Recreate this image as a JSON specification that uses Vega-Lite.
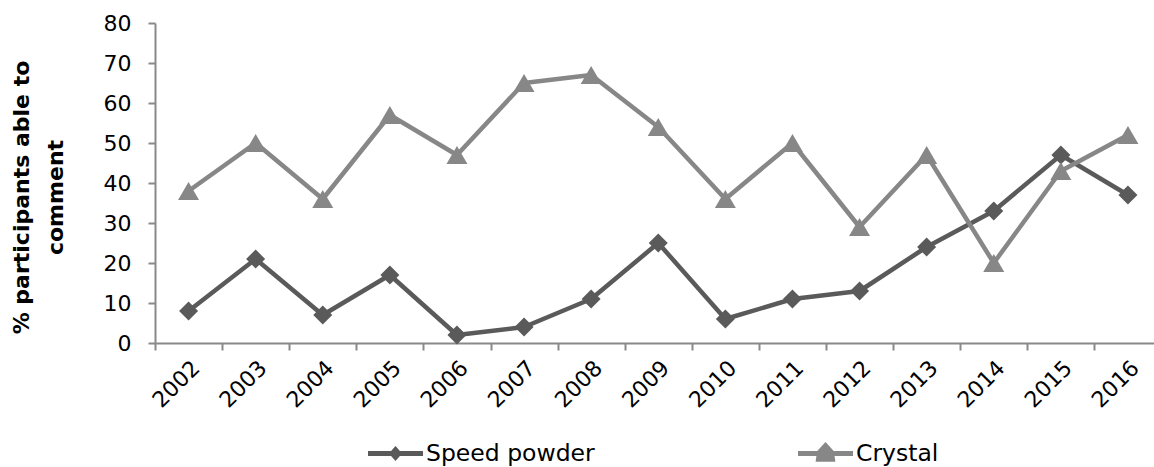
{
  "$schema": "https://vega.github.io/schema/vega-lite/v6.json",
  "width": 999,
  "height": 320,
  "autosize": {"type": "none"},
  "padding": {"left": 155, "top": 23, "right": 0, "bottom": 124},
  "background": "white",
  "config": {
    "view": {"stroke": null},
    "font": "DejaVu Sans"
  },
  "data": {
    "values": [
      {"year": "2002", "series": "Speed powder", "pct": 8},
      {"year": "2003", "series": "Speed powder", "pct": 21},
      {"year": "2004", "series": "Speed powder", "pct": 7},
      {"year": "2005", "series": "Speed powder", "pct": 17},
      {"year": "2006", "series": "Speed powder", "pct": 2},
      {"year": "2007", "series": "Speed powder", "pct": 4},
      {"year": "2008", "series": "Speed powder", "pct": 11},
      {"year": "2009", "series": "Speed powder", "pct": 25},
      {"year": "2010", "series": "Speed powder", "pct": 6},
      {"year": "2011", "series": "Speed powder", "pct": 11},
      {"year": "2012", "series": "Speed powder", "pct": 13},
      {"year": "2013", "series": "Speed powder", "pct": 24},
      {"year": "2014", "series": "Speed powder", "pct": 33},
      {"year": "2015", "series": "Speed powder", "pct": 47},
      {"year": "2016", "series": "Speed powder", "pct": 37},
      {"year": "2002", "series": "Crystal", "pct": 38},
      {"year": "2003", "series": "Crystal", "pct": 50},
      {"year": "2004", "series": "Crystal", "pct": 36},
      {"year": "2005", "series": "Crystal", "pct": 57},
      {"year": "2006", "series": "Crystal", "pct": 47},
      {"year": "2007", "series": "Crystal", "pct": 65},
      {"year": "2008", "series": "Crystal", "pct": 67},
      {"year": "2009", "series": "Crystal", "pct": 54},
      {"year": "2010", "series": "Crystal", "pct": 36},
      {"year": "2011", "series": "Crystal", "pct": 50},
      {"year": "2012", "series": "Crystal", "pct": 29},
      {"year": "2013", "series": "Crystal", "pct": 47},
      {"year": "2014", "series": "Crystal", "pct": 20},
      {"year": "2015", "series": "Crystal", "pct": 43},
      {"year": "2016", "series": "Crystal", "pct": 52}
    ]
  },
  "encoding": {
    "x": {
      "field": "year",
      "type": "ordinal",
      "scale": {"type": "band", "paddingInner": 0, "paddingOuter": 0, "range": [0, 1006.5]},
      "axis": {
        "title": null,
        "tickBand": "extent",
        "labelAngle": -45,
        "labelFont": "DejaVu Sans",
        "labelFontSize": 22,
        "labelColor": "#000000",
        "labelPadding": 7,
        "domainColor": "#898989",
        "domainWidth": 2,
        "tickColor": "#898989",
        "tickWidth": 2,
        "tickSize": 7,
        "grid": false
      }
    },
    "y": {
      "field": "pct",
      "type": "quantitative",
      "scale": {"domain": [0, 80], "nice": false, "zero": true},
      "axis": {
        "title": ["% participants able to", "comment"],
        "titleFont": "DejaVu Sans",
        "titleFontSize": 22,
        "titleFontWeight": "bold",
        "titleColor": "#000000",
        "titleLineHeight": 34,
        "titlePadding": 36,
        "titleY": 174,
        "values": [0, 10, 20, 30, 40, 50, 60, 70, 80],
        "labelFont": "DejaVu Sans",
        "labelFontSize": 22,
        "labelColor": "#000000",
        "labelPadding": 17,
        "domainColor": "#898989",
        "domainWidth": 2,
        "tickColor": "#898989",
        "tickWidth": 2,
        "tickSize": 7,
        "grid": false
      }
    },
    "color": {
      "field": "series",
      "type": "nominal",
      "scale": {"domain": ["Speed powder", "Crystal"], "range": ["#5a5a5a", "#878787"]},
      "legend": {
        "title": null,
        "orient": "none",
        "legendX": 213,
        "legendY": 403,
        "direction": "horizontal",
        "columns": 2,
        "columnPadding": 203,
        "padding": 0,
        "symbolSize": 3025,
        "symbolStrokeWidth": 0,
        "labelFont": "DejaVu Sans",
        "labelFontSize": 23.5,
        "labelColor": "#000000",
        "labelOffset": 3,
        "labelLimit": 400,
        "encode": {
          "symbols": {
            "update": {
              "shape": {"signal": "datum.value === 'Crystal' ? 'M-1,-0.09 L-0.3,-0.09 L0,-0.42 L0.3,-0.09 L1,-0.09 L1,0.09 L0.33,0.09 L0.36,0.3 L-0.36,0.3 L-0.33,0.09 L-1,0.09 Z' : 'M-1,-0.09 L-0.16,-0.09 L0,-0.27 L0.16,-0.09 L1,-0.09 L1,0.09 L0.16,0.09 L0,0.27 L-0.16,0.09 L-1,0.09 Z'"},
              "fill": {"scale": "color", "field": "value"},
              "fillOpacity": {"value": 1},
              "strokeWidth": {"value": 0}
            }
          }
        }
      }
    }
  },
  "layer": [
    {
      "transform": [{"filter": "datum.series === 'Speed powder'"}],
      "mark": {"type": "line", "strokeWidth": 4.5, "strokeJoin": "round"}
    },
    {
      "transform": [{"filter": "datum.series === 'Speed powder'"}],
      "mark": {"type": "point", "shape": "diamond", "filled": true, "opacity": 1, "size": 361}
    },
    {
      "transform": [{"filter": "datum.series === 'Crystal'"}],
      "mark": {"type": "line", "strokeWidth": 4.5, "strokeJoin": "round"}
    },
    {
      "transform": [{"filter": "datum.series === 'Crystal'"}],
      "mark": {"type": "point", "shape": "triangle-up", "filled": true, "opacity": 1, "size": 441}
    }
  ]
}
